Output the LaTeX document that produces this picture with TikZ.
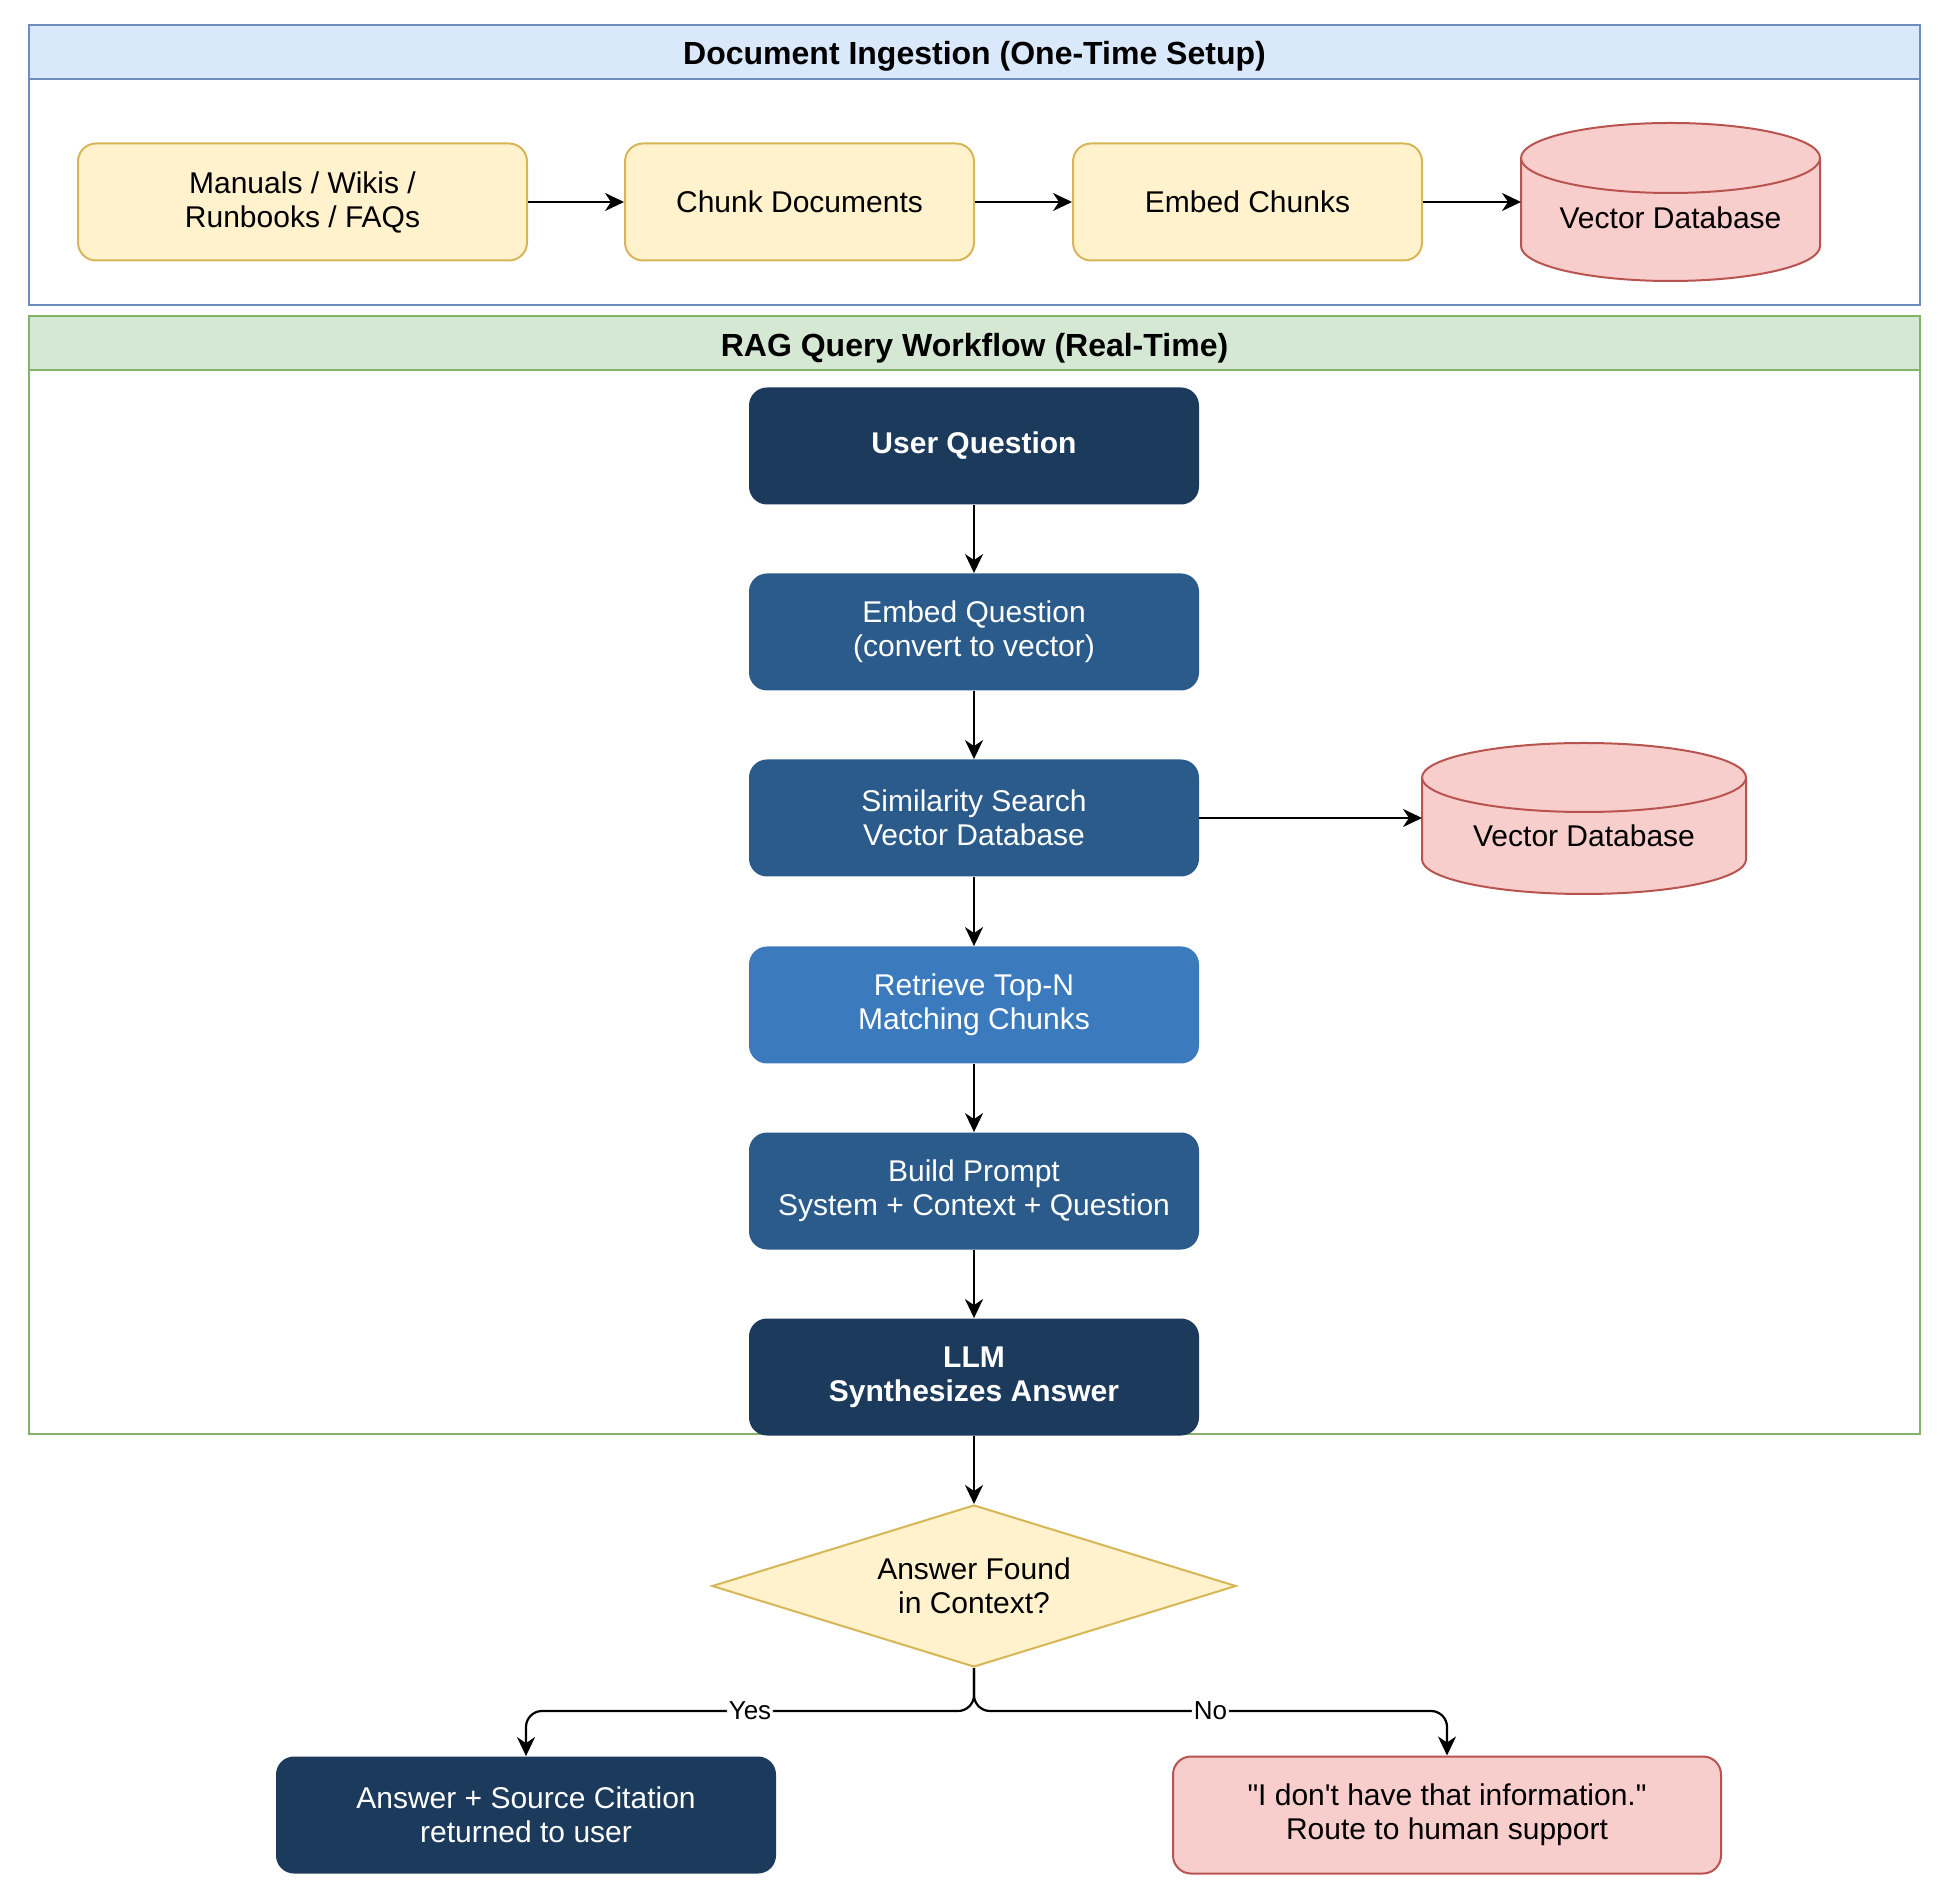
\documentclass[tikz,border=0pt]{standalone}
\usepackage{fontspec}
\setmainfont{Liberation Sans}
\usepackage{xcolor}
\usepackage{tikz}
\usetikzlibrary{arrows.meta,shapes.geometric,calc,backgrounds}

\definecolor{ingfill}{HTML}{FFF2CC}
\definecolor{ingline}{HTML}{D6B656}
\definecolor{dbfill}{HTML}{F8CECC}
\definecolor{dbline}{HTML}{B85450}
\definecolor{bluehead}{HTML}{DAE8FC}
\definecolor{blueline}{HTML}{6C8EBF}
\definecolor{greenhead}{HTML}{D5E8D4}
\definecolor{greenline}{HTML}{82B366}
\definecolor{navy}{HTML}{1B3A5C}
\definecolor{midblue}{HTML}{2B5B8B}
\definecolor{lightblue}{HTML}{3B7BBD}

% database cylinder behind a named node: node, x radius, y radius
\newcommand{\dbshape}[3]{%
  \begin{pgfonlayer}{background}
    \filldraw[dbcyl] ($(#1.north west)+(0,-#3)$) -- ($(#1.south west)+(0,#3)$)
      arc[start angle=180, end angle=360, x radius=#2, y radius=#3]
      -- ($(#1.north east)+(0,-#3)$)
      arc[start angle=0, end angle=180, x radius=#2, y radius=#3] -- cycle;
    \draw[dbcyl] ($(#1.north west)+(0,-#3)$)
      arc[start angle=180, end angle=360, x radius=#2, y radius=#3];
  \end{pgfonlayer}}

\begin{document}
\begin{tikzpicture}[
  x=0.5pt, y=0.5pt,
  >={Stealth[length=9.5pt, width=9pt, inset=3pt]},
  txt/.style={font=\fontsize{15}{17}\selectfont, align=center},
  strong/.style={font=\fontsize{15}{17}\selectfont\bfseries},
  srcbox/.style={txt, draw=ingline, fill=ingfill, line width=1pt, rounded corners=9pt,
    minimum width=174.5pt, minimum height=58.5pt},
  darkstep/.style={txt, fill=navy, text=white, rounded corners=9pt,
    minimum width=225pt, minimum height=58.5pt},
  midstep/.style={darkstep, fill=midblue},
  lightstep/.style={darkstep, fill=lightblue},
  failbox/.style={txt, draw=dbline, fill=dbfill, line width=1pt, rounded corners=9pt,
    minimum width=274pt, minimum height=58.5pt},
  dbnode/.style={txt, inner sep=0pt, outer sep=0pt},
  dbcyl/.style={fill=dbfill, draw=dbline, line width=1pt},
  decision/.style={txt, diamond, aspect=3.2, draw=ingline, fill=ingfill, line width=1pt,
    inner sep=0pt, minimum width=262pt, minimum height=81pt},
  lanetitle/.style={font=\fontsize{16}{19}\selectfont\bfseries},
  tag/.style={fill=white, inner sep=1pt, font=\fontsize{13}{15}\selectfont},
  flow/.style={->, line width=1.1pt},
]
\useasboundingbox (0,0) rectangle (1952,1902);

% Lanes
\filldraw[draw=blueline, fill=bluehead, line width=1pt] (29,1823) rectangle (1920,1877);
\draw[blueline, line width=1pt] (29,1597) rectangle (1920,1877);
\node[lanetitle] (ingtitle) at (974.5,1846) {Document Ingestion (One-Time Setup)};

\filldraw[draw=greenline, fill=greenhead, line width=1pt] (29,1532) rectangle (1920,1586);
\draw[greenline, line width=1pt] (29,468) rectangle (1920,1586);
\node[lanetitle] (ragtitle) at (974.5,1554) {RAG Query Workflow (Real-Time)};

% Ingestion row
\node[srcbox, minimum width=224.5pt] (src) at (302.5,1700) {Manuals / Wikis /\\Runbooks / FAQs};
\node[srcbox] (chunk) at (799.5,1700) {Chunk Documents};
\node[srcbox] (embc) at (1247.5,1700) {Embed Chunks};
\node[dbnode, minimum width=149.5pt, minimum height=79pt] (store) at (1670.5,1700)
  {\raisebox{-8pt}[\height][\depth]{Vector Database}};
\dbshape{store}{74.75pt}{17.5pt}

\draw[flow] (src) -- (chunk);
\draw[flow] (chunk) -- (embc);
\draw[flow] (embc.east) -- (embc.east -| store.west);

% Query column
\node[darkstep, strong] (ask) at (974,1456) {User Question};
\node[midstep] (embq) at (974,1270) {Embed Question\\(convert to vector)};
\node[midstep] (search) at (974,1084) {Similarity Search\\Vector Database};
\node[lightstep] (fetch) at (974,897) {Retrieve Top-N\\Matching Chunks};
\node[midstep] (prompt) at (974,711) {Build Prompt\\System + Context + Question};
\node[darkstep, strong, align=center] (llm) at (974,525) {LLM\\Synthesizes Answer};

\node[dbnode, minimum width=162pt, minimum height=75.5pt] (index) at (1584,1083.5)
  {\raisebox{-8.5pt}[\height][\depth]{Vector Database}};
\dbshape{index}{81pt}{17.25pt}

\draw[flow] (ask) -- (embq);
\draw[flow] (embq) -- (search);
\draw[flow] (search) -- (fetch);
\draw[flow] (fetch) -- (prompt);
\draw[flow] (prompt) -- (llm);
\draw[flow] (search.east) -- (search.east -| index.west);

% Decision and outcomes
\node[decision] (found) at (974,316) {Answer Found\\in Context?};
\coordinate (split) at (974,191);
\node[darkstep, minimum width=250pt] (reply) at (526,87) {Answer + Source Citation\\returned to user};
\node[failbox] (handoff) at (1447,87) {\textquotedbl I don\textquotesingle t have that information.\textquotedbl\\Route to human support};

\draw[flow] (llm) -- (found);
\draw[flow, rounded corners=8pt] (found.south) -- (split) -| node[tag, pos=0.25] {Yes} (reply.north);
\draw[flow, rounded corners=8pt] (found.south) -- (split) -| node[tag, pos=0.25] {No} (handoff.north);
\end{tikzpicture}
\end{document}
